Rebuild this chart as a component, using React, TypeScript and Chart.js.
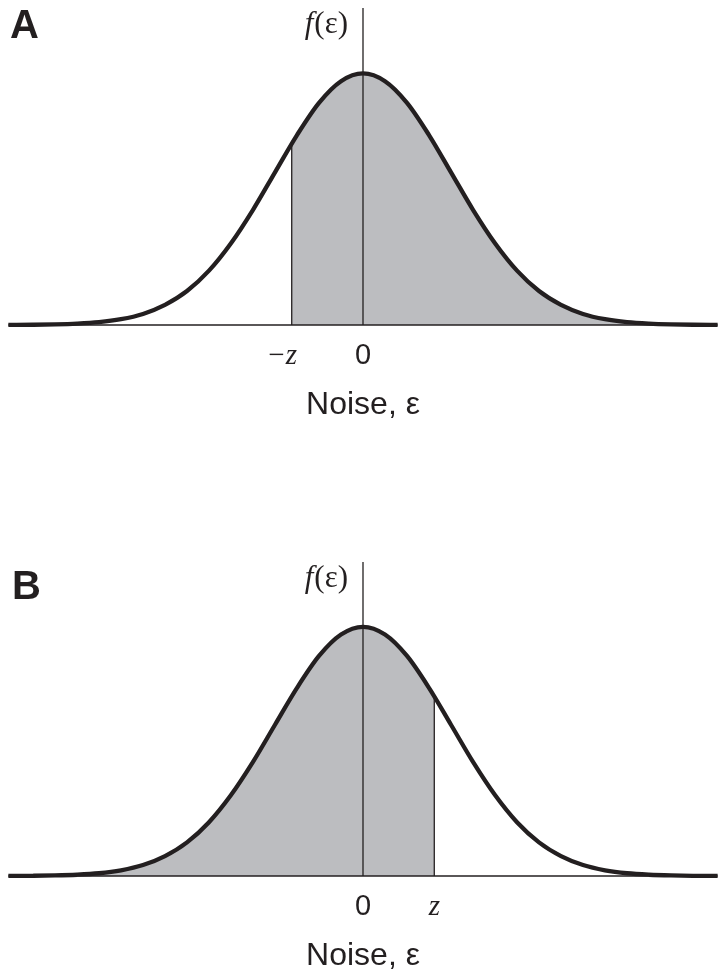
import React, { useEffect, useRef } from 'react';
import { Chart, registerables } from 'chart.js';

Chart.register(...registerables);

// Noise values (in units of the curve's spread) and the density
const noiseX = [-4.03, -3.75, -3.5, -3.25, -3, -2.75, -2.5, -2.25, -2, -1.75, -1.5, -1.25, -1, -0.75, -0.5, -0.25, 0, 0.25, 0.5, 0.75, 1, 1.25, 1.5, 1.75, 2, 2.25, 2.5, 2.75, 3, 3.25, 3.5, 3.75, 4.03];
const density = [0.0003, 0.0009, 0.0022, 0.0051, 0.011, 0.023, 0.044, 0.08, 0.135, 0.216, 0.325, 0.458, 0.607, 0.755, 0.883, 0.969, 1, 0.969, 0.883, 0.755, 0.607, 0.458, 0.325, 0.216, 0.135, 0.08, 0.044, 0.023, 0.011, 0.0051, 0.0022, 0.0009, 0.0003];
const zValue = 0.81;
const densityAtZ = 0.72;
const axisTopValue = 1.26;
const xMin = -4.125;
const xMax = 4.125;

const ticksA = [-zValue, 0];
const labelsA = ['\u2212z\u2002\u2009', '0'];
const ticksB = [0, zValue];
const labelsB = ['0', 'z'];

const axisTitle = 'Noise, \u03b5';
const yLabelF = 'f';
const yLabelArg = '(\u03b5)';

const INK = '#231f20';
const SHADE = '#bcbdc0';
const SANS = '"Liberation Sans", Arial, Helvetica, sans-serif';
const SERIF = '"Liberation Serif", "Times New Roman", serif';

type PanelOpts = {
  letter: string;
  shadeSide: 'right' | 'left';
  tickValues: number[];
  tickLabels: string[];
  padTop: number;
  padBottom: number;
  letterX: number;
  letterBaseline: number;
};

function buildChart(canvas: HTMLCanvasElement, o: PanelOpts) {
  const curve = noiseX.map((x, i) => ({ x, y: density[i] }));
  const cut = o.shadeSide === 'right' ? -zValue : zValue;
  const shaded =
    o.shadeSide === 'right'
      ? [{ x: cut, y: densityAtZ }, ...curve.filter((p) => p.x > cut)]
      : [...curve.filter((p) => p.x < cut), { x: cut, y: densityAtZ }];

  const labelsPlugin = {
    id: 'panelLabels',
    afterDraw(chart: any) {
      const ctx = chart.ctx;
      const xs = chart.scales.x;
      const top = chart.chartArea.top;
      ctx.save();
      ctx.fillStyle = INK;
      ctx.textBaseline = 'alphabetic';
      // panel letter
      ctx.font = `bold 40px ${SANS}`;
      ctx.textAlign = 'left';
      ctx.fillText(o.letter, o.letterX, o.letterBaseline);
      // f(ε) label beside the vertical axis
      const x0 = xs.getPixelForValue(0);
      const right = x0 - 15;
      const base = top + 25;
      ctx.font = `31px ${SERIF}`;
      ctx.textAlign = 'right';
      ctx.fillText(yLabelArg, right, base);
      const w = ctx.measureText(yLabelArg).width;
      ctx.font = `italic 31px ${SERIF}`;
      ctx.fillText(yLabelF, right - w - 1, base);
      ctx.restore();
    },
  };

  return new Chart(canvas, {
    type: 'line',
    data: {
      datasets: [
        {
          data: curve,
          borderColor: INK,
          borderWidth: 4.3,
          pointRadius: 0,
          fill: false,
          cubicInterpolationMode: 'monotone',
          clip: false,
        },
        {
          data: [{ x: 0, y: 0 }, { x: 0, y: axisTopValue }],
          borderColor: INK,
          borderWidth: 1.3,
          pointRadius: 0,
          fill: false,
          tension: 0,
          clip: false,
        },
        {
          data: [{ x: cut, y: 0 }, { x: cut, y: densityAtZ }],
          borderColor: INK,
          borderWidth: 1.3,
          pointRadius: 0,
          fill: false,
          tension: 0,
          clip: false,
        },
        {
          data: [{ x: noiseX[0], y: 0 }, { x: noiseX[noiseX.length - 1], y: 0 }],
          borderColor: INK,
          borderWidth: 1.5,
          pointRadius: 0,
          fill: false,
          tension: 0,
          clip: false,
        },
        {
          data: shaded,
          borderWidth: 0,
          borderColor: 'rgba(0,0,0,0)',
          backgroundColor: SHADE,
          pointRadius: 0,
          fill: 'origin',
          cubicInterpolationMode: 'monotone',
          clip: false,
        },
      ],
    } as any,
    options: {
      animation: false,
      responsive: false,
      devicePixelRatio: 1,
      layout: { padding: { top: o.padTop, bottom: o.padBottom, left: 0, right: 0 } },
      plugins: { legend: { display: false }, tooltip: { enabled: false }, title: { display: false } },
      events: [],
      scales: {
        x: {
          type: 'linear',
          min: xMin,
          max: xMax,
          grid: { display: false, drawTicks: false },
          border: { display: false },
          afterBuildTicks: (scale: any) => {
            scale.ticks = o.tickValues.map((v) => ({ value: v }));
          },
          ticks: {
            autoSkip: false,
            maxRotation: 0,
            minRotation: 0,
            padding: 14,
            color: INK,
            callback: (_v: any, i: number) => o.tickLabels[i],
            font: (ctx: any) =>
              o.tickLabels[ctx.index] === '0'
                ? { family: SANS, size: 29, style: 'normal' }
                : { family: SERIF, size: 29, style: 'italic' },
          },
          title: {
            display: true,
            text: axisTitle,
            color: INK,
            font: { family: SANS, size: 32, lineHeight: 0.8 },
            padding: { top: 5, bottom: 4 },
          },
        },
        y: {
          type: 'linear',
          display: false,
          min: 0,
          max: axisTopValue,
        },
      },
    } as any,
    plugins: [labelsPlugin],
  });
}

function Panel(props: PanelOpts & { top: number; height: number }) {
  const ref = useRef<HTMLCanvasElement | null>(null);
  useEffect(() => {
    if (!ref.current) return;
    const chart = buildChart(ref.current, props);
    return () => chart.destroy();
  }, []);
  return (
    <canvas
      ref={ref}
      width={726}
      height={props.height}
      style={{ position: 'absolute', left: 0, top: props.top, width: 726, height: props.height, display: 'block' }}
    />
  );
}

export default function App() {
  return (
    <div style={{ position: 'absolute', left: 0, top: 0, width: 726, height: 980, background: '#ffffff', overflow: 'hidden' }}>
      <Panel
        top={0}
        height={440}
        letter="A"
        shadeSide="right"
        tickValues={ticksA}
        tickLabels={labelsA}
        padTop={8}
        padBottom={17.6}
        letterX={10}
        letterBaseline={38}
      />
      <Panel
        top={540}
        height={440}
        letter="B"
        shadeSide="left"
        tickValues={ticksB}
        tickLabels={labelsB}
        padTop={22}
        padBottom={6.6}
        letterX={12}
        letterBaseline={59}
      />
    </div>
  );
}
